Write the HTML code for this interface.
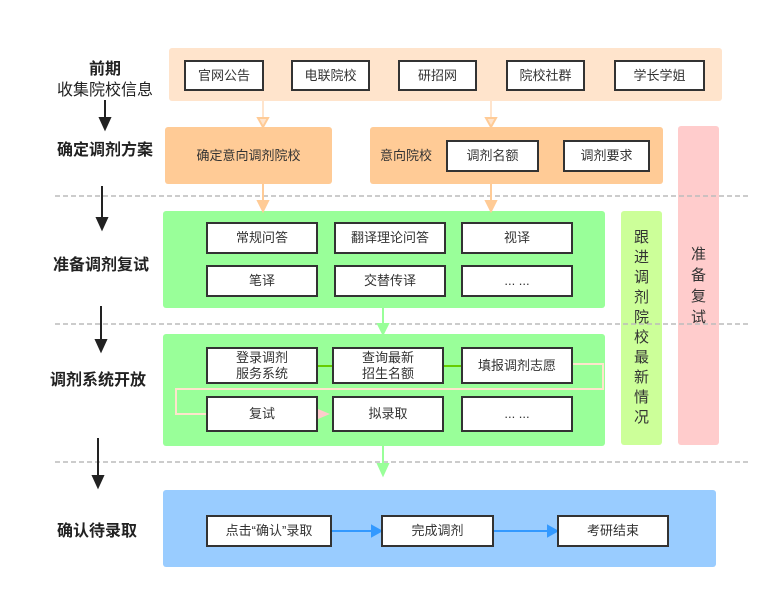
<!DOCTYPE html><html><head><meta charset="utf-8"><style>
body{margin:0;width:778px;height:599px;background:#fff;position:relative;overflow:hidden;font-family:"Liberation Sans","Noto Sans CJK SC",sans-serif;color:#333}
.a{position:absolute;box-sizing:border-box;display:flex;align-items:center;justify-content:center;text-align:center;font-size:13px;line-height:16px}
.b{background:#fff;border:2px solid #333}
.r{border-radius:3px}
.l{position:absolute;font-size:16px;font-weight:bold;color:#222;text-align:center;width:140px}
svg{position:absolute;left:0;top:0}
</style></head><body>
<div class="a r" style="left:169px;top:48px;width:553px;height:53px;background:#ffe4cc"></div>
<div class="a r" style="left:165px;top:127px;width:167px;height:57px;background:#ffcb96">确定意向调剂院校</div>
<div class="a r" style="left:370px;top:127px;width:293px;height:57px;background:#ffcb96;justify-content:flex-start;padding-left:10px">意向院校</div>
<div class="a r" style="left:678px;top:126px;width:41px;height:319px;background:#ffcccc;font-size:15px;line-height:21px;padding:0 12px">准备复试</div>
<div class="a r" style="left:621px;top:211px;width:41px;height:234px;background:#ccff99;font-size:15px;line-height:20px;padding:0 12px">跟进调剂院校最新情况</div>
<div class="a r" style="left:163px;top:211px;width:442px;height:97px;background:#99ff99"></div>
<div class="a r" style="left:163px;top:334px;width:442px;height:112px;background:#99ff99"></div>
<div class="a r" style="left:163px;top:490px;width:553px;height:77px;background:#99ccff"></div>
<svg width="778" height="599">
<g stroke="#bbb" stroke-dasharray="5,3" stroke-width="1.5"><line x1="55" y1="196" x2="748" y2="196"/><line x1="55" y1="324" x2="748" y2="324"/><line x1="55" y1="462" x2="748" y2="462"/></g>
<g stroke="#ffcb96" stroke-width="2" fill="#ffcb96">
<line x1="263" y1="101" x2="263" y2="120" stroke="#ffe4cc"/><path d="M258 118 L268 118 L263 127Z" fill="#ffe4cc"/>
<line x1="491" y1="101" x2="491" y2="120" stroke="#ffe4cc"/><path d="M486 118 L496 118 L491 127Z" fill="#ffe4cc"/>
<line x1="263" y1="184" x2="263" y2="204"/><path d="M258 201 L268 201 L263 211Z"/>
<line x1="491" y1="184" x2="491" y2="204"/><path d="M486 201 L496 201 L491 211Z"/>
</g>
<g stroke="#99ff99" stroke-width="2" fill="#99ff99">
<line x1="383" y1="308" x2="383" y2="326"/><path d="M378 324 L388 324 L383 334Z"/>
<line x1="383" y1="446" x2="383" y2="466"/><path d="M378 464 L388 464 L383 475Z"/>
</g>
<g stroke="#66cc00" stroke-width="2"><line x1="318" y1="366" x2="332" y2="366"/><line x1="444" y1="366" x2="461" y2="366"/></g>
<path d="M573 364 H603 V389 H176 V414 H206" fill="none" stroke="#ffe4cc" stroke-width="2"/>
<path d="M318 409 L330 414 L318 419Z" fill="#ffcccc"/>
<g stroke="#3399ff" stroke-width="2" fill="#3399ff">
<line x1="332" y1="531" x2="374" y2="531"/><path d="M372 526 L381 531 L372 536Z"/>
<line x1="494" y1="531" x2="550" y2="531"/><path d="M548 526 L557 531 L548 536Z"/>
</g>
<g stroke="#222" stroke-width="2" fill="#222">
<line x1="105" y1="100" x2="105" y2="120"/><path d="M100 118 L110 118 L105 129Z"/>
<line x1="102" y1="186" x2="102" y2="220"/><path d="M97 218 L107 218 L102 229Z"/>
<line x1="101" y1="306" x2="101" y2="342"/><path d="M96 340 L106 340 L101 351Z"/>
<line x1="98" y1="438" x2="98" y2="478"/><path d="M93 476 L103 476 L98 487Z"/>
</g>
</svg>
<div class="a b" style="left:184px;top:60px;width:80px;height:31px">官网公告</div>
<div class="a b" style="left:291px;top:60px;width:79px;height:31px">电联院校</div>
<div class="a b" style="left:398px;top:60px;width:79px;height:31px">研招网</div>
<div class="a b" style="left:506px;top:60px;width:79px;height:31px">院校社群</div>
<div class="a b" style="left:614px;top:60px;width:91px;height:31px">学长学姐</div>
<div class="a b" style="left:446px;top:140px;width:93px;height:32px">调剂名额</div>
<div class="a b" style="left:563px;top:140px;width:87px;height:32px">调剂要求</div>
<div class="a b" style="left:206px;top:222px;width:112px;height:32px">常规问答</div>
<div class="a b" style="left:334px;top:222px;width:112px;height:32px">翻译理论问答</div>
<div class="a b" style="left:461px;top:222px;width:112px;height:32px">视译</div>
<div class="a b" style="left:206px;top:265px;width:112px;height:32px">笔译</div>
<div class="a b" style="left:334px;top:265px;width:112px;height:32px">交替传译</div>
<div class="a b" style="left:461px;top:265px;width:112px;height:32px">... ...</div>
<div class="a b" style="left:206px;top:347px;width:112px;height:37px">登录调剂<br>服务系统</div>
<div class="a b" style="left:332px;top:347px;width:112px;height:37px">查询最新<br>招生名额</div>
<div class="a b" style="left:461px;top:347px;width:112px;height:37px">填报调剂志愿</div>
<div class="a b" style="left:206px;top:396px;width:112px;height:36px">复试</div>
<div class="a b" style="left:332px;top:396px;width:112px;height:36px">拟录取</div>
<div class="a b" style="left:461px;top:396px;width:112px;height:36px">... ...</div>
<div class="a b" style="left:206px;top:515px;width:126px;height:32px">点击“确认”录取</div>
<div class="a b" style="left:381px;top:515px;width:113px;height:32px">完成调剂</div>
<div class="a b" style="left:557px;top:515px;width:112px;height:32px">考研结束</div>
<div class="l" style="left:35px;top:55px">前期</div>
<div class="l" style="left:35px;top:76px;font-weight:normal">收集院校信息</div>
<div class="l" style="left:35px;top:136px">确定调剂方案</div>
<div class="l" style="left:31px;top:251px">准备调剂复试</div>
<div class="l" style="left:28px;top:366px">调剂系统开放</div>
<div class="l" style="left:27px;top:517px">确认待录取</div>
</body></html>
